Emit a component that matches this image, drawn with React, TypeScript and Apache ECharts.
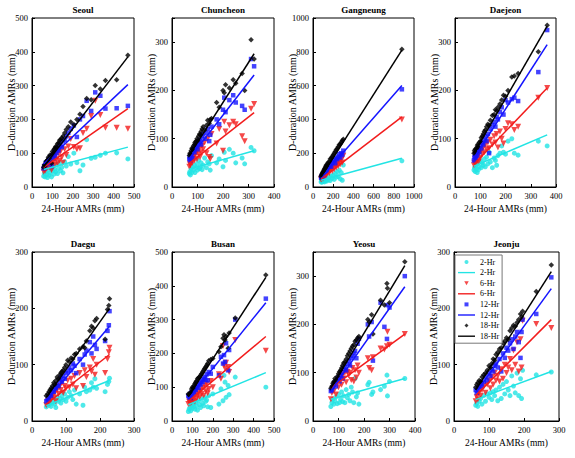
import React, { useEffect, useRef } from "react";
import * as echarts from "echarts";

// ---------- tick / axis settings ----------
const stations = ["Seoul", "Chuncheon", "Gangneung", "Daejeon", "Daegu", "Busan", "Yeosu", "Jeonju"];
const durations = ["2-Hr", "6-Hr", "12-Hr", "18-Hr"];
const xAxisMax = [500, 400, 1000, 400, 300, 500, 400, 300];
const xAxisStep = [100, 100, 200, 100, 100, 100, 100, 100];
const yAxisMax = [500, 350, 1000, 350, 300, 500, 350, 300];
const yAxisStep = [100, 100, 200, 100, 100, 100, 100, 100];

// ---------- Seoul ----------
const seoulX = [57, 60, 64, 68, 72, 76, 80, 84, 88, 92, 96, 100, 104, 108, 112, 116, 120, 125, 130, 135, 140, 146, 152, 160, 168, 178, 190, 205, 220, 235, 250, 268, 290, 310, 335, 360, 415, 470];
const seoul2 = [32, 40, 30, 45, 38, 28, 50, 35, 42, 55, 30, 48, 60, 38, 52, 45, 66, 40, 55, 70, 48, 58, 42, 75, 62, 90, 68, 100, 72, 48, 65, 140, 85, 88, 94, 100, 101, 83];
const seoul6 = [45, 52, 48, 62, 55, 60, 70, 58, 75, 68, 50, 80, 72, 88, 65, 95, 82, 70, 100, 78, 105, 88, 72, 112, 95, 120, 142, 118, 112, 115, 160, 172, 210, 255, 213, 175, 175, 172];
const seoul12 = [55, 62, 58, 72, 68, 75, 80, 72, 88, 90, 62, 95, 85, 102, 92, 110, 100, 115, 108, 122, 128, 118, 135, 140, 150, 160, 172, 182, 148, 200, 210, 255, 225, 280, 270, 232, 233, 240];
const seoul18 = [58, 65, 62, 74, 78, 80, 88, 84, 95, 92, 70, 105, 100, 112, 115, 120, 118, 128, 130, 138, 140, 145, 150, 160, 170, 178, 192, 185, 200, 215, 238, 262, 258, 300, 290, 315, 317, 390];
const seoulFit = [[57, 52, 470, 118], [57, 58, 470, 232], [57, 68, 470, 303], [57, 60, 470, 385]];

// ---------- Chuncheon ----------
const chunX = [68, 70, 72, 75, 78, 80, 84, 88, 90, 94, 98, 100, 104, 108, 110, 114, 118, 122, 128, 135, 140, 146, 150, 155, 175, 185, 200, 205, 210, 225, 240, 250, 275, 285, 310, 322];
const chun2 = [28, 32, 25, 38, 30, 42, 35, 45, 30, 40, 48, 35, 55, 38, 42, 50, 36, 45, 60, 40, 52, 48, 35, 65, 50, 58, 42, 72, 55, 78, 70, 50, 60, 48, 82, 75];
const chun6 = [42, 48, 45, 52, 58, 50, 62, 55, 66, 70, 58, 75, 68, 80, 62, 72, 85, 78, 92, 70, 100, 62, 58, 110, 90, 120, 75, 135, 115, 128, 135, 130, 105, 95, 162, 172];
const chun12 = [58, 62, 55, 65, 70, 60, 78, 72, 82, 85, 88, 78, 92, 95, 98, 88, 105, 110, 100, 112, 120, 95, 108, 125, 140, 130, 160, 185, 155, 180, 190, 175, 168, 160, 265, 250];
const chun18 = [65, 70, 68, 75, 80, 78, 85, 88, 92, 95, 100, 96, 105, 110, 108, 115, 120, 125, 118, 128, 138, 132, 140, 142, 175, 165, 200, 195, 212, 205, 222, 215, 235, 200, 305, 265];
const chunFit = [[68, 37, 322, 75], [68, 49, 322, 154], [68, 59, 322, 232], [68, 66, 322, 276]];

// ---------- Gangneung ----------
const gangX = [80, 84, 88, 92, 96, 100, 105, 110, 115, 120, 125, 130, 135, 140, 150, 160, 170, 180, 190, 200, 210, 220, 230, 240, 250, 260, 270, 280, 290, 300, 880];
const gang2 = [30, 38, 28, 35, 42, 32, 45, 36, 30, 48, 40, 55, 35, 50, 42, 60, 38, 65, 52, 70, 45, 80, 58, 90, 62, 100, 48, 85, 40, 130, 155];
const gang6 = [45, 52, 48, 55, 60, 50, 68, 58, 72, 62, 80, 70, 85, 78, 92, 82, 100, 110, 95, 120, 105, 130, 115, 140, 125, 150, 135, 160, 145, 185, 400];
const gang12 = [55, 60, 65, 58, 70, 75, 80, 72, 88, 85, 95, 100, 90, 110, 118, 125, 135, 120, 145, 150, 160, 140, 170, 165, 180, 195, 175, 200, 190, 215, 578];
const gang18 = [62, 70, 75, 80, 85, 90, 95, 102, 108, 112, 120, 128, 125, 135, 145, 150, 165, 170, 180, 190, 200, 210, 220, 228, 238, 250, 255, 265, 275, 282, 815];
const gangFit = [[80, 40, 880, 170], [80, 48, 880, 415], [80, 55, 880, 600], [80, 60, 880, 810]];

// ---------- Daejeon ----------
const daejX = [75, 77, 80, 82, 85, 88, 90, 93, 96, 100, 104, 108, 112, 116, 120, 125, 130, 135, 140, 148, 155, 160, 165, 170, 178, 185, 192, 200, 210, 225, 235, 250, 330, 365];
const daej2 = [35, 40, 32, 45, 38, 30, 48, 36, 42, 55, 40, 50, 45, 58, 42, 62, 48, 72, 52, 40, 60, 55, 45, 65, 70, 85, 72, 68, 95, 100, 70, 66, 95, 85];
const daej6 = [45, 50, 58, 48, 62, 55, 65, 52, 70, 60, 75, 68, 82, 72, 88, 78, 92, 80, 98, 88, 105, 92, 110, 82, 115, 100, 90, 120, 132, 130, 118, 125, 185, 205];
const daej12 = [55, 62, 68, 60, 70, 65, 75, 80, 72, 85, 80, 92, 88, 98, 105, 95, 110, 70, 120, 128, 135, 125, 145, 140, 155, 165, 150, 180, 175, 182, 185, 178, 238, 325];
const daej18 = [70, 75, 78, 72, 80, 85, 88, 82, 92, 95, 102, 105, 110, 115, 118, 125, 130, 128, 138, 148, 150, 160, 158, 165, 172, 180, 190, 188, 200, 228, 230, 235, 280, 335];
const daejFit = [[75, 43, 365, 108], [75, 47, 365, 205], [75, 60, 365, 295], [75, 70, 365, 333]];

// ---------- Daegu ----------
const daeguX = [42, 46, 50, 53, 56, 60, 64, 67, 70, 74, 78, 82, 85, 88, 92, 96, 100, 105, 110, 115, 120, 125, 130, 140, 150, 155, 160, 170, 175, 180, 185, 190, 215, 222, 226, 228];
const daegu2 = [25, 30, 28, 35, 26, 32, 38, 30, 24, 42, 35, 40, 32, 45, 38, 48, 35, 42, 52, 45, 38, 55, 30, 48, 28, 60, 52, 55, 68, 60, 75, 58, 52, 65, 70, 76];
const daegu6 = [28, 35, 32, 40, 38, 45, 42, 50, 35, 55, 48, 62, 55, 68, 50, 62, 58, 72, 60, 75, 65, 80, 58, 85, 62, 90, 78, 95, 88, 110, 82, 100, 85, 110, 122, 130];
const daegu12 = [35, 38, 42, 48, 45, 55, 52, 60, 58, 65, 62, 72, 78, 70, 80, 75, 85, 88, 95, 90, 102, 98, 85, 110, 100, 118, 125, 140, 120, 150, 135, 128, 142, 160, 170, 195];
const daegu18 = [45, 48, 52, 55, 58, 62, 68, 65, 72, 78, 75, 82, 85, 88, 90, 95, 100, 108, 105, 112, 110, 118, 120, 128, 132, 130, 142, 160, 168, 165, 178, 182, 145, 198, 205, 217];
const daeguFit = [[42, 27, 228, 72], [42, 30, 228, 118], [42, 36, 228, 168], [42, 42, 228, 200]];

// ---------- Busan ----------
const busanX = [80, 84, 88, 92, 96, 100, 104, 108, 112, 116, 120, 125, 130, 135, 140, 145, 150, 155, 160, 165, 170, 175, 180, 190, 200, 230, 240, 250, 255, 260, 265, 275, 280, 310, 460];
const busan2 = [28, 35, 40, 30, 45, 38, 50, 42, 35, 55, 45, 32, 60, 48, 40, 65, 52, 45, 70, 58, 62, 42, 75, 40, 80, 50, 95, 60, 135, 115, 70, 105, 78, 130, 100];
const busan6 = [50, 58, 52, 62, 55, 68, 60, 72, 58, 80, 65, 75, 85, 70, 90, 80, 98, 75, 105, 88, 110, 82, 95, 118, 100, 138, 125, 222, 165, 155, 172, 160, 145, 240, 208];
const busan12 = [75, 70, 80, 68, 85, 78, 90, 85, 95, 92, 100, 105, 98, 112, 108, 120, 115, 125, 130, 122, 138, 120, 145, 140, 160, 135, 190, 170, 195, 175, 230, 150, 210, 300, 362];
const busan18 = [80, 78, 82, 85, 95, 100, 98, 105, 110, 115, 118, 125, 128, 130, 135, 140, 145, 150, 155, 160, 165, 170, 178, 182, 185, 205, 220, 245, 255, 240, 250, 215, 260, 305, 432];
const busanFit = [[80, 48, 460, 143], [80, 58, 460, 250], [80, 65, 460, 350], [80, 72, 460, 425]];

// ---------- Yeosu ----------
const yeosuX = [70, 74, 78, 82, 86, 90, 95, 100, 104, 108, 112, 116, 120, 125, 130, 135, 140, 145, 150, 155, 160, 165, 170, 175, 180, 215, 220, 230, 235, 265, 280, 290, 292, 300, 360];
const yeosu2 = [30, 38, 45, 35, 42, 50, 36, 55, 38, 45, 60, 40, 52, 38, 65, 48, 55, 42, 70, 60, 38, 88, 50, 58, 35, 75, 80, 55, 60, 65, 72, 95, 52, 82, 88];
const yeosu6 = [45, 58, 68, 62, 75, 55, 80, 70, 85, 92, 75, 95, 88, 100, 80, 102, 95, 100, 85, 110, 82, 105, 90, 115, 100, 130, 110, 105, 132, 150, 148, 155, 185, 158, 180];
const yeosu12 = [62, 65, 70, 75, 80, 72, 85, 90, 82, 95, 100, 88, 108, 112, 105, 118, 125, 115, 130, 135, 140, 145, 130, 160, 170, 200, 175, 205, 125, 245, 195, 170, 240, 235, 300];
const yeosu18 = [68, 72, 78, 82, 88, 85, 92, 98, 102, 105, 110, 115, 120, 122, 128, 135, 140, 145, 150, 155, 158, 165, 168, 172, 175, 210, 205, 220, 180, 250, 240, 285, 275, 245, 330];
const yeosuFit = [[70, 45, 360, 88], [70, 68, 360, 180], [70, 62, 360, 278], [70, 68, 360, 322]];

// ---------- Jeonju ----------
const jeonjuX = [62, 65, 68, 72, 76, 80, 85, 90, 95, 100, 104, 108, 112, 116, 120, 125, 130, 135, 140, 145, 150, 155, 160, 165, 170, 175, 180, 185, 190, 193, 196, 235, 278];
const jeonju2 = [28, 32, 26, 35, 40, 30, 45, 35, 48, 42, 50, 38, 52, 45, 55, 36, 60, 40, 65, 48, 70, 55, 45, 80, 62, 50, 85, 45, 75, 40, 90, 82, 87];
const jeonju6 = [35, 42, 38, 50, 45, 55, 62, 50, 65, 72, 58, 78, 65, 85, 72, 80, 70, 92, 75, 100, 85, 95, 110, 90, 125, 100, 140, 88, 145, 95, 178, 172, 165];
const jeonju12 = [55, 50, 58, 60, 65, 62, 70, 78, 72, 85, 80, 92, 88, 98, 102, 95, 110, 88, 120, 112, 130, 125, 138, 145, 128, 150, 158, 140, 112, 158, 180, 190, 255];
const jeonju18 = [60, 65, 68, 72, 70, 78, 82, 85, 90, 98, 95, 102, 110, 108, 118, 122, 128, 130, 138, 142, 148, 145, 160, 165, 170, 168, 175, 180, 190, 185, 195, 230, 277];
const jeonjuFit = [[62, 38, 278, 88], [62, 45, 278, 180], [62, 50, 278, 235], [62, 55, 278, 265]];

const panels = [
  { x: seoulX, y: [seoul2, seoul6, seoul12, seoul18], fit: seoulFit },
  { x: chunX, y: [chun2, chun6, chun12, chun18], fit: chunFit },
  { x: gangX, y: [gang2, gang6, gang12, gang18], fit: gangFit },
  { x: daejX, y: [daej2, daej6, daej12, daej18], fit: daejFit },
  { x: daeguX, y: [daegu2, daegu6, daegu12, daegu18], fit: daeguFit },
  { x: busanX, y: [busan2, busan6, busan12, busan18], fit: busanFit },
  { x: yeosuX, y: [yeosu2, yeosu6, yeosu12, yeosu18], fit: yeosuFit },
  { x: jeonjuX, y: [jeonju2, jeonju6, jeonju12, jeonju18], fit: jeonjuFit },
];

// ---------- layout / style ----------
const GRIDS = [
  [32, 18, 102, 169], [172, 18, 102, 169], [313, 18, 101, 169], [455, 18, 101, 169],
  [32, 252, 102, 169], [172, 252, 102, 169], [313, 252, 102, 169], [454, 252, 105, 169],
];
const COLORS = ["#22e4e4", "#f21c1c", "#1414ff", "#000000"];
const SYMBOLS = ["circle", "path://M0,0L10,0L5,9Z", "path://M0,0L10,0L10,10L0,10Z", "path://M5,0L10,5L5,10L0,5Z"];
const SIZES = [5, 6, 4.5, 5.5];
const LINE_ICON = "path://M0,0L20,0L20,1.6L0,1.6Z";
const SERIF = "Liberation Serif";

function buildOption() {
  const grid: any[] = [];
  const xAxis: any[] = [];
  const yAxis: any[] = [];
  const title: any[] = [];
  const series: any[] = [];
  const axisCommon = {
    splitLine: { show: false },
    axisLine: { show: true, lineStyle: { color: "#000", width: 1 } },
    axisTick: { show: true, inside: true, length: 3, lineStyle: { color: "#000" } },
    nameLocation: "middle",
    nameMoveOverlap: false,
  };
  panels.forEach((p, i) => {
    const [l, t, w, h] = GRIDS[i];
    grid.push({ left: l, top: t, width: w, height: h, show: true, borderColor: "#000", borderWidth: 1, backgroundColor: "#fff" });
    const xs = xAxisStep[i];
    const ys = yAxisStep[i];
    xAxis.push({
      ...axisCommon,
      type: "value", gridIndex: i, min: 0, max: xAxisMax[i], interval: xs,
      name: "24-Hour AMRs (mm)", nameGap: 17,
      nameTextStyle: { fontFamily: SERIF, fontSize: 9.5, color: "#000" },
      axisLabel: { fontFamily: SERIF, fontSize: 8.5, color: "#000", margin: 4, formatter: (v: number) => (v % xs === 0 ? String(v) : "") },
    });
    yAxis.push({
      ...axisCommon,
      type: "value", gridIndex: i, min: 0, max: yAxisMax[i], interval: ys,
      name: "D-duration AMRs (mm)", nameGap: 16,
      nameTextStyle: { fontFamily: SERIF, fontSize: 10, color: "#000" },
      axisLabel: { fontFamily: SERIF, fontSize: 8.5, color: "#000", margin: 4, formatter: (v: number) => (v % ys === 0 ? String(v) : "") },
    });
    title.push({
      text: stations[i], left: l + w / 2, top: t - 13, textAlign: "center", padding: 0,
      textStyle: { fontFamily: SERIF, fontWeight: "bold", fontSize: 9, color: "#000" },
    });
    durations.forEach((d, k) => {
      series.push({
        type: "scatter", name: d, xAxisIndex: i, yAxisIndex: i,
        symbol: SYMBOLS[k], symbolSize: SIZES[k],
        itemStyle: { color: COLORS[k] },
        data: p.x.map((xv, j) => [xv, p.y[k][j]]),
      });
      const f = p.fit[k];
      series.push({
        type: "line", name: d + " ", xAxisIndex: i, yAxisIndex: i,
        symbol: "none", showSymbol: false,
        color: COLORS[k],
        itemStyle: { color: COLORS[k] },
        lineStyle: { color: COLORS[k], width: 1.5 },
        data: [[f[0], f[1]], [f[2], f[3]]],
      });
    });
  });
  const legendData: any[] = [];
  durations.forEach((d, k) => {
    legendData.push({ name: d, icon: SYMBOLS[k] });
    legendData.push({ name: d + " ", icon: LINE_ICON });
  });
  return {
    animation: false,
    backgroundColor: "#fff",
    grid, xAxis, yAxis, title, series,
    legend: {
      data: legendData,
      orient: "vertical",
      left: 455, top: 255,
      itemWidth: 17, itemHeight: 4, itemGap: 2.6,
      padding: [3, 3, 3, 3],
      borderColor: "#777", borderWidth: 1, backgroundColor: "#fff",
      selectedMode: false,
      textStyle: { fontFamily: SERIF, fontSize: 8, color: "#000" },
      formatter: (n: string) => n.trim(),
    },
  };
}

export default function App() {
  const ref = useRef<HTMLDivElement>(null);
  useEffect(() => {
    if (!ref.current) return;
    const chart = echarts.init(ref.current, undefined, { renderer: "svg" });
    chart.setOption(buildOption() as any);
    return () => chart.dispose();
  }, []);
  return <div ref={ref} style={{ position: "absolute", left: 0, top: 0, width: 575, height: 458 }} />;
}
